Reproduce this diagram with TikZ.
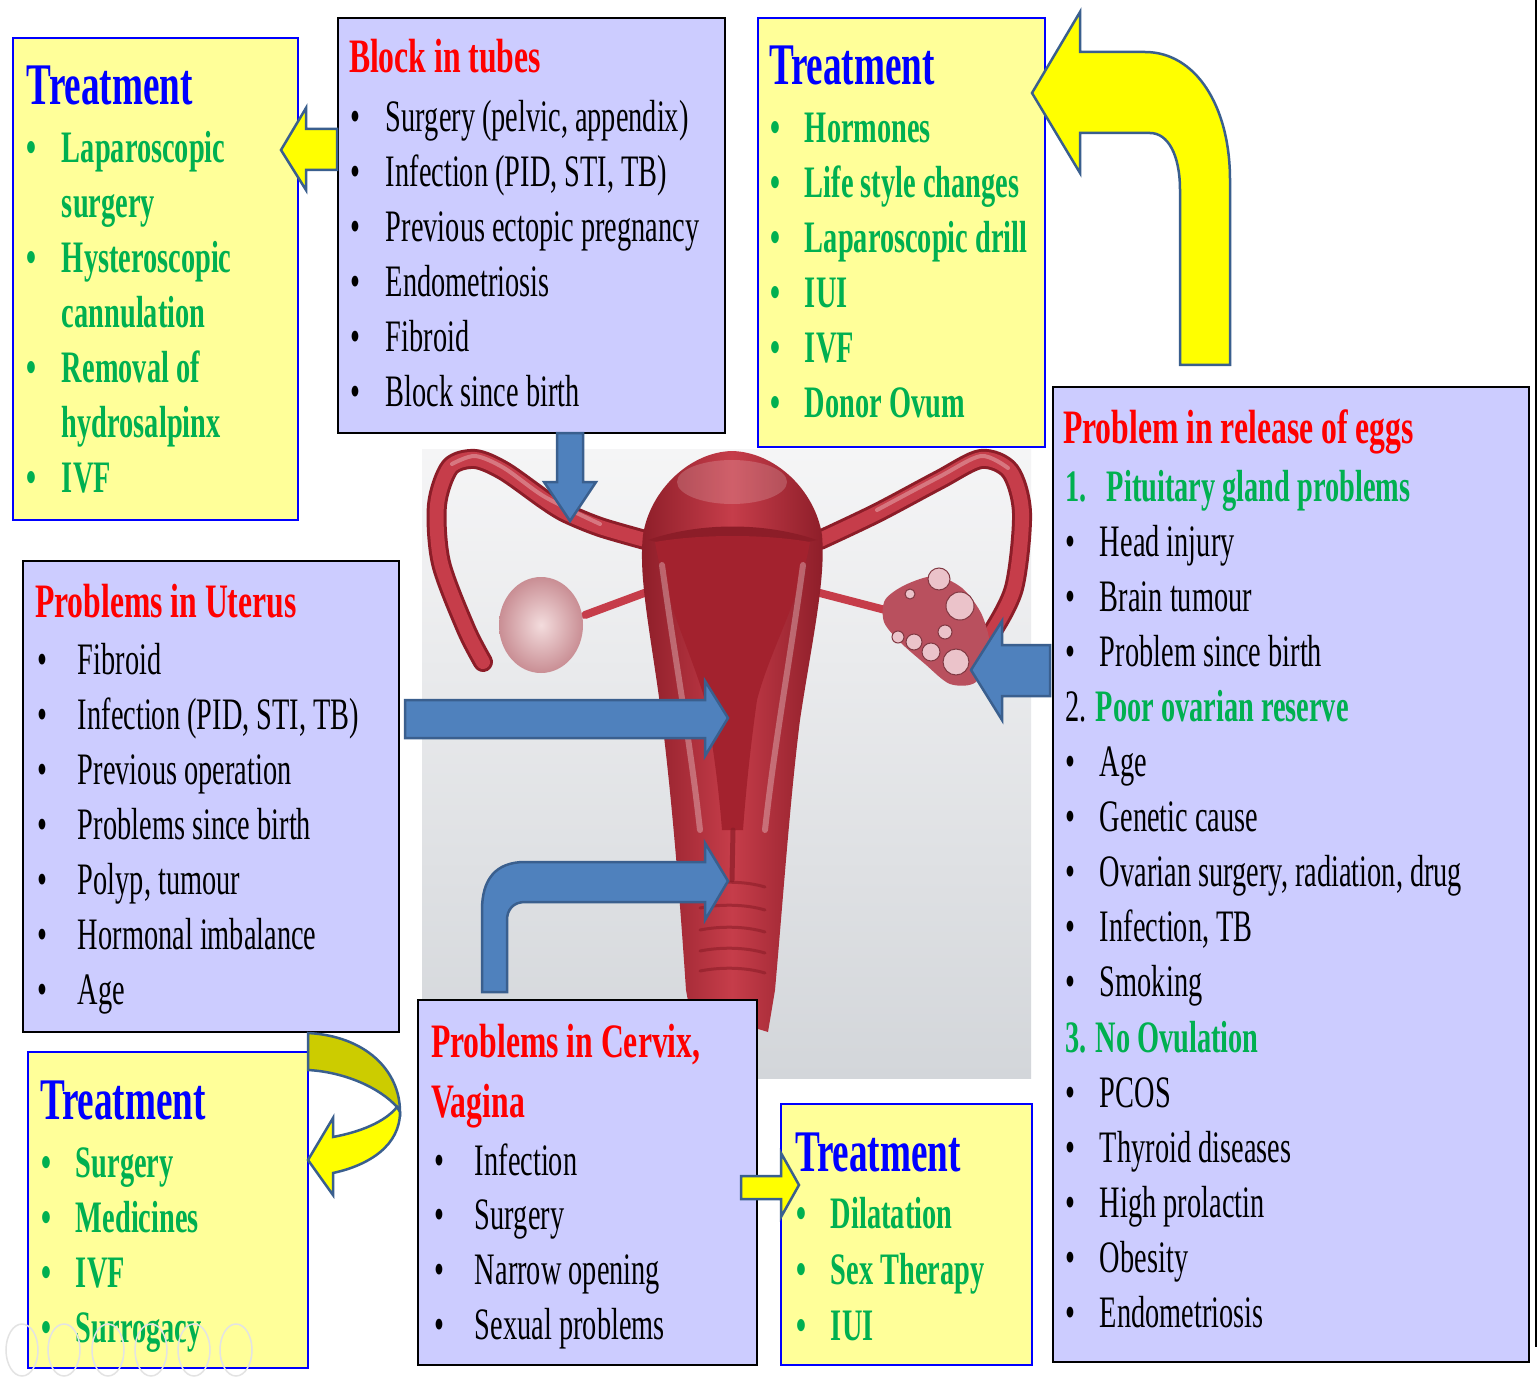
\documentclass[tikz,border=0pt]{standalone}
\usepackage{fontspec}
\setmainfont{Liberation Serif}
\newfontfamily\tnr[FakeStretch=0.63]{Liberation Serif}
\newfontfamily\tnrh[FakeStretch=0.66]{Liberation Serif}
\definecolor{boxyellow}{HTML}{FFFF99}
\definecolor{boxlav}{HTML}{CCCCFF}
\definecolor{tgreen}{HTML}{00B050}
\definecolor{tred}{HTML}{FF0000}
\definecolor{tblue}{HTML}{0000FF}
\definecolor{arrblue}{HTML}{4F81BD}
\definecolor{arredge}{HTML}{3A5F8E}
\definecolor{arryellow}{HTML}{FFFF00}
\definecolor{arrolive}{HTML}{CCCC00}
\definecolor{utred}{HTML}{C63D4A}
\definecolor{utdark}{HTML}{8C1D28}
\definecolor{utcav}{HTML}{A3222E}
\definecolor{ovpink}{HTML}{F3DCDD}
\definecolor{ovedge}{HTML}{C98E94}
\definecolor{ovred}{HTML}{B9505E}
\definecolor{folpink}{HTML}{EBC3CA}
\definecolor{bgtop}{HTML}{F5F5F6}
\definecolor{bgbot}{HTML}{D3D6DA}
\definecolor{navgray}{HTML}{E3E3E3}
\newcommand\bul[1][35pt]{\makebox[#1][l]{\textbullet}}
\newcommand\itemlist[2][55pt]{\parbox[t]{700pt}{\raggedright\fontsize{45}{#1}\selectfont\leavevmode #2}}
\tikzset{
  ybox/.style={draw=tblue, line width=1.5pt, fill=boxyellow, inner sep=0pt, outer sep=0pt, anchor=north west},
  lbox/.style={draw=black, line width=2pt, fill=boxlav, inner sep=0pt, outer sep=0pt, anchor=north west},
  txt/.style={anchor=base west, inner sep=0pt, outer sep=0pt, font=\tnr\fontsize{45}{55}\selectfont},
  ttl/.style={txt, text=tblue, font=\tnr\bfseries\fontsize{59}{59}\selectfont},
  hd/.style={txt, text=tred, font=\tnrh\bfseries\fontsize{48}{60}\selectfont},
  barrow/.style={fill=arrblue, draw=arredge, line width=2.5pt, line join=miter},
  yarrow/.style={fill=arryellow, draw=arredge, line width=2.5pt, line join=miter},
  tube/.style={line width=#1, line cap=round, line join=round},
}
\begin{document}
\begin{tikzpicture}[x=1pt,y=-1pt]
\useasboundingbox (0,0) rectangle (1540,1380);
\fill[white] (0,0) rectangle (1540,1380);

% ---------- picture of the uterus ----------
\shade[top color=bgtop, bottom color=bgbot] (422,449) rectangle (1031,1078);
% tubes
\draw[tube=20pt, utdark] plot[smooth] coordinates {(645,540) (600,527) (566,513) (545,500) (504,471) (475,459) (450,467) (437,505) (441,563) (466,629) (483,662)};
\draw[tube=14pt, utred] plot[smooth] coordinates {(645,540) (600,527) (566,513) (545,500) (504,471) (475,459) (450,467) (437,505) (441,563) (466,629) (483,662)};
\draw[tube=4pt, white, opacity=.3] plot[smooth] coordinates {(600,524) (545,497) (504,468) (475,456) (452,464)};
\draw[tube=20pt, utdark] plot[smooth] coordinates {(820,540) (877,513) (939,480) (981,459) (1010,471) (1022,513) (1014,588) (989,637) (973,654)};
\draw[tube=14pt, utred] plot[smooth] coordinates {(820,540) (877,513) (939,480) (981,459) (1010,471) (1022,513) (1014,588) (989,637) (973,654)};
\draw[tube=4pt, white, opacity=.3] plot[smooth] coordinates {(877,510) (939,477) (981,456) (1008,468)};
% ligaments
\draw[tube=8pt, utred] (647,592) -- (585,615);
\draw[tube=8pt, utred] (816,592) -- (893,612);
% left ovary
\shade[inner color=ovpink, outer color=ovedge] (541,625) ellipse [x radius=42pt, y radius=48pt];
% right ovary
\fill[ovred] plot[smooth cycle] coordinates {(885,600) (905,585) (935,576) (962,588) (982,615) (990,650) (976,682) (950,684) (925,664) (900,642) (884,622)};
\foreach \fx/\fy/\fr in {939/579/11, 960/606/14, 956/662/13, 898/637/6, 914/642/8, 931/652/9, 910/594/5, 945/632/7}
  \filldraw[fill=folpink, draw=ovred!70!black, line width=1pt] (\fx,\fy) circle [radius=\fr pt];
% body
\shade[left color=utdark, right color=utdark, middle color=utred]
  (690,1012) -- (686,990) .. controls (680,900) and (672,800) .. (662,720)
  .. controls (652,640) and (638,580) .. (643,535)
  .. controls (650,490) and (690,452) .. (732,451)
  .. controls (775,452) and (815,490) .. (822,535)
  .. controls (826,580) and (812,640) .. (800,720)
  .. controls (790,800) and (783,900) .. (775,990) -- (768,1032) -- (755,1028) -- cycle;
\fill[white, opacity=.18] (732,482) ellipse [x radius=55pt, y radius=22pt];
\fill[utdark] (648,540) .. controls (700,522) and (765,522) .. (817,540) .. controls (765,552) and (700,552) .. (648,540) -- cycle;
\fill[utcav] (655,542) .. controls (700,534) and (765,534) .. (810,542)
  .. controls (800,600) and (770,650) .. (757,700) .. controls (750,750) and (746,790) .. (743,830)
  -- (722,830) .. controls (718,780) and (712,740) .. (705,700)
  .. controls (690,650) and (665,600) .. (655,542) -- cycle;
\draw[tube=6pt, white, opacity=.3] (662,565) .. controls (675,660) and (690,740) .. (700,830);
\draw[tube=6pt, white, opacity=.3] (803,565) .. controls (790,660) and (775,740) .. (765,830);
\draw[tube=5pt, utdark, opacity=.7] (733,830) -- (732,880);
\foreach \sy in {885,908,930,951,971}
  \draw[tube=3pt, utdark, opacity=.6] (700,\sy) .. controls (720,\sy-4) and (745,\sy-4) .. (765,\sy+2);

% ---------- boxes ----------
\node[ybox, minimum width=285pt, minimum height=482pt] (tl) at (13,38) {};
\node[lbox, minimum width=387pt, minimum height=415pt] (bt) at (338,18) {};
\node[ybox, minimum width=287pt, minimum height=429pt] (tm) at (758,18) {};
\node[lbox, minimum width=476pt, minimum height=975pt] (re) at (1053,387) {};
\node[lbox, minimum width=376pt, minimum height=471pt] (ut) at (23,561) {};
\node[ybox, minimum width=280pt, minimum height=316pt] (bl) at (28,1052) {};
\node[lbox, minimum width=339pt, minimum height=365pt] (cv) at (418,1000) {};
\node[ybox, minimum width=251pt, minimum height=261pt] (bm) at (781,1104) {};
\draw[line width=1.5pt] (1536,0) -- (1536,1347);

% ---------- texts ----------
\node[ttl] (tlT) at (27,105) {Treatment};
\node[txt, text=tgreen] (tlL) at (27,163) {\itemlist{\bfseries
  \bul Laparoscopic\\ \hspace*{35pt}surgery\\ \bul Hysteroscopic\\ \hspace*{35pt}cannulation\\
  \bul Removal of\\ \hspace*{35pt}hydrosalpinx\\ \bul IVF}};

\node[hd] (btH) at (349,73) {Block in tubes};
\node[txt] (btL) at (350,132) {\itemlist{\bul[36pt]Surgery (pelvic, appendix)\\ \bul[36pt]Infection (PID, STI, TB)\\
  \bul[36pt]Previous ectopic pregnancy\\ \bul[36pt]Endometriosis\\ \bul[36pt]Fibroid\\ \bul[36pt]Block since birth}};

\node[ttl] (tmT) at (769,85) {Treatment};
\node[txt, text=tgreen] (tmL) at (770,143) {\itemlist{\bfseries
  \bul Hormones\\ \bul Life style changes\\ \bul Laparoscopic drill\\ \bul IUI\\ \bul IVF\\ \bul Donor Ovum}};

\node[hd] (reH) at (1063,443) {Problem in release of eggs};
\node[txt] (reL) at (1065,501) {\itemlist[55.1pt]{%
  {\color{tgreen}\bfseries\makebox[42pt][l]{1.}Pituitary gland problems}\\
  \bul Head injury\\ \bul Brain tumour\\ \bul Problem since birth\\
  2. {\color{tgreen}\bfseries Poor ovarian reserve}\\
  \bul Age\\ \bul Genetic cause\\ \bul Ovarian surgery, radiation, drug\\ \bul Infection, TB\\ \bul Smoking\\
  {\color{tgreen}\bfseries 3. No Ovulation}\\
  \bul PCOS\\ \bul Thyroid diseases\\ \bul High prolactin\\ \bul Obesity\\ \bul Endometriosis}};

\node[hd] (utH) at (35,617) {Problems in Uterus};
\node[txt] (utL) at (37,674) {\itemlist{\bul[41pt]Fibroid\\ \bul[41pt]Infection (PID, STI, TB)\\ \bul[41pt]Previous operation\\
  \bul[41pt]Problems since birth\\ \bul[41pt]Polyp, tumour\\ \bul[41pt]Hormonal imbalance\\ \bul[41pt]Age}};

\node[ttl] (blT) at (40,1119) {Treatment};
\node[txt, text=tgreen] (blL) at (41,1177) {\itemlist{\bfseries
  \bul Surgery\\ \bul Medicines\\ \bul IVF\\ \bul Surrogacy}};

\node[hd] (cvH1) at (431,1057) {Problems in Cervix,};
\node[hd] (cvH2) at (431,1117) {Vagina};
\node[txt] (cvL) at (434,1175) {\itemlist[54.7pt]{\bul[41pt]Infection\\ \bul[41pt]Surgery\\ \bul[41pt]Narrow opening\\ \bul[41pt]Sexual problems}};

\node[ttl] (bmT) at (795,1171) {Treatment};
\node[txt, text=tgreen] (bmL) at (796,1228) {\itemlist[56pt]{\bfseries
  \bul Dilatation\\ \bul Sex Therapy\\ \bul IUI}};

% ---------- arrows ----------
\draw[barrow] (557,433) -- (583,433) -- (583,482) -- (596,482) -- (570,521) -- (544,482) -- (557,482) -- cycle;
\draw[barrow] (405,700) -- (705,700) -- (705,681) -- (728,718) -- (705,756) -- (705,738) -- (405,738) -- cycle;
\draw[barrow] (482,992) -- (482,910) .. controls (482,880) and (495,862) .. (525,862) -- (705,862) -- (705,843)
  -- (728,881) -- (705,920) -- (705,902) -- (525,902) .. controls (513,902) and (507,910) .. (507,920) -- (507,992) -- cycle;
\draw[barrow] (1050,645) -- (1002,645) -- (1002,621) -- (971,670) -- (1002,720) -- (1002,696) -- (1050,696) -- cycle;

\draw[yarrow] (1032,93) -- (1080,12) -- (1080,52) -- (1145,52) .. controls (1195,52) and (1230,105) .. (1230,180)
  -- (1230,365) -- (1180,365) -- (1180,190) .. controls (1180,155) and (1168,133) .. (1150,133)
  -- (1080,133) -- (1080,173) -- cycle;
\draw[yarrow] (281,150) -- (306,108) -- (306,129) -- (337,129) -- (337,170) -- (306,170) -- (306,190) -- cycle;
\draw[yarrow] (799,1185) -- (781,1153) -- (781,1176) -- (741,1176) -- (741,1199) -- (781,1199) -- (781,1217) -- cycle;
\draw[fill=arrolive, draw=arredge, line width=2.5pt] (308,1033) .. controls (365,1036) and (400,1070) .. (400,1112)
  -- (397,1107) .. controls (380,1088) and (345,1072) .. (308,1070) -- cycle;
\draw[yarrow] (397,1107) .. controls (385,1122) and (360,1132) .. (333,1137) -- (333,1118) -- (308,1160)
  -- (333,1195) -- (333,1173) .. controls (370,1165) and (400,1145) .. (400,1112) -- cycle;

% ---------- slide controls ----------
\foreach \cx in {22,64,108,151,194,236}
  \draw[navgray, line width=1.5pt] (\cx,1350) ellipse [x radius=16pt, y radius=26pt];
\end{tikzpicture}
\end{document}
